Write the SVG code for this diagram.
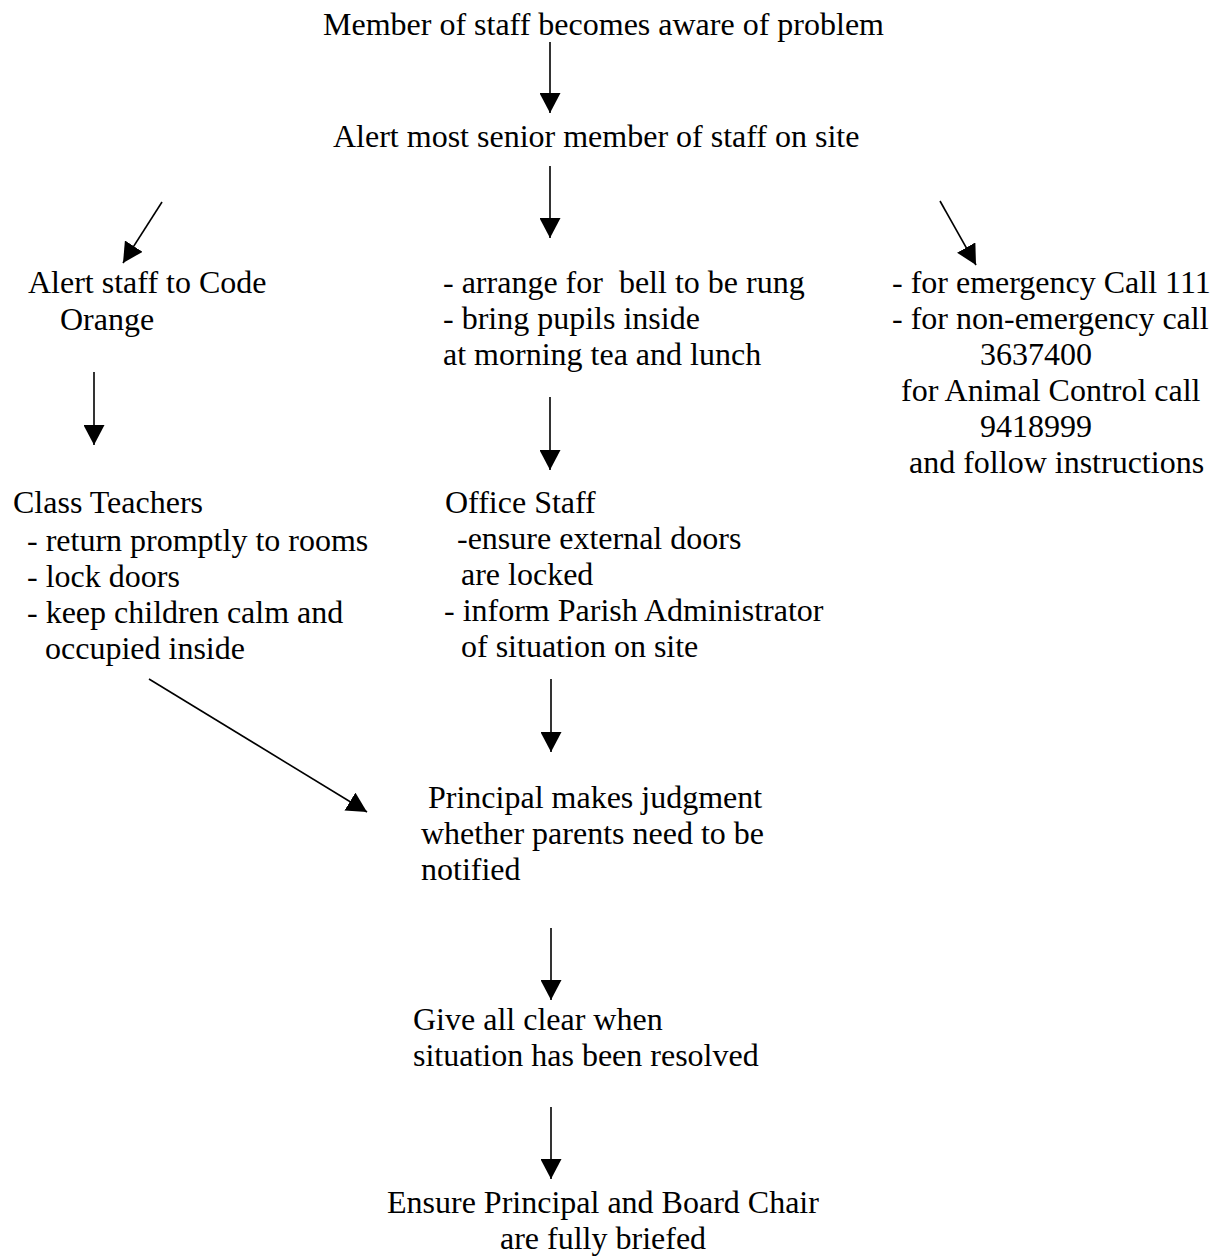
<svg xmlns="http://www.w3.org/2000/svg" width="1214" height="1256" viewBox="0 0 1214 1256">
<style>
text{font-family:"Liberation Serif","Times New Roman",serif;font-size:32px;fill:#000;white-space:pre}
.c{stroke:#000;stroke-width:1.6;fill:none}
</style>
<defs>
<marker id="ah" viewBox="0 0 20 21" refX="20" refY="10.5" markerWidth="20" markerHeight="21" orient="auto" markerUnits="userSpaceOnUse">
<path d="M0,0 L20,10.5 L0,21 z" fill="#000"/>
</marker>
</defs>
<rect width="1214" height="1256" fill="#fff"/>
<g id="connectors">
<line class="c" x1="550" y1="42" x2="550" y2="113" marker-end="url(#ah)"/>
<line class="c" x1="550" y1="166" x2="550" y2="238" marker-end="url(#ah)"/>
<line class="c" x1="162" y1="202" x2="123" y2="263" marker-end="url(#ah)"/>
<line class="c" x1="940" y1="201" x2="976" y2="265" marker-end="url(#ah)"/>
<line class="c" x1="94" y1="372" x2="94" y2="445" marker-end="url(#ah)"/>
<line class="c" x1="550" y1="397" x2="550" y2="470" marker-end="url(#ah)"/>
<line class="c" x1="551" y1="679" x2="551" y2="752" marker-end="url(#ah)"/>
<line class="c" x1="149" y1="679" x2="367" y2="812" marker-end="url(#ah)"/>
<line class="c" x1="551" y1="928" x2="551" y2="1000" marker-end="url(#ah)"/>
<line class="c" x1="551" y1="1107" x2="551" y2="1179" marker-end="url(#ah)"/>
</g>
<g id="n1"><text x="323" y="35">Member of staff becomes aware of problem</text></g>
<g id="n2"><text x="333" y="147">Alert most senior member of staff on site</text></g>
<g id="n3"><text x="28" y="293">Alert staff to Code</text><text x="60" y="330">Orange</text></g>
<g id="n4"><text x="443" y="293">- arrange for  bell to be rung</text><text x="443" y="329">- bring pupils inside</text><text x="443" y="365">at morning tea and lunch</text></g>
<g id="n5"><text x="892" y="293">- for emergency Call 111</text><text x="892" y="329">- for non-emergency call</text><text x="980" y="365">3637400</text><text x="901" y="401">for Animal Control call</text><text x="980" y="437">9418999</text><text x="909" y="473">and follow instructions</text></g>
<g id="n6"><text x="13" y="513">Class Teachers</text><text x="27" y="551">- return promptly to rooms</text><text x="27" y="587">- lock doors</text><text x="27" y="623">- keep children calm and</text><text x="45" y="659">occupied inside</text></g>
<g id="n7"><text x="445" y="513">Office Staff</text><text x="457" y="549">-ensure external doors</text><text x="461" y="585">are locked</text><text x="444" y="621">- inform Parish Administrator</text><text x="461" y="657">of situation on site</text></g>
<g id="n8"><text x="428" y="808">Principal makes judgment</text><text x="421" y="844">whether parents need to be</text><text x="421" y="880">notified</text></g>
<g id="n9"><text x="413" y="1030">Give all clear when</text><text x="413" y="1066">situation has been resolved</text></g>
<g id="n10"><text x="387" y="1213">Ensure Principal and Board Chair</text><text x="500" y="1249">are fully briefed</text></g>
</svg>
